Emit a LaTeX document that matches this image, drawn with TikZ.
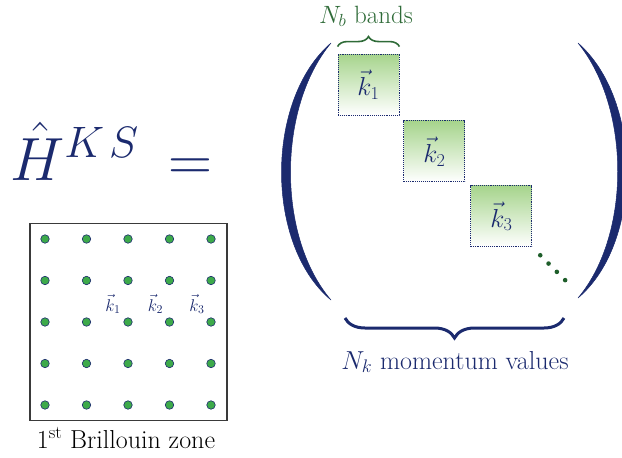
\RequirePackage{fix-cm}
\documentclass[tikz,border=0pt]{standalone}
\usepackage{amsmath}
\usetikzlibrary{positioning,calc,decorations.pathreplacing}
\definecolor{ksNavy}{HTML}{1B2A6E}
\definecolor{ksGreen}{HTML}{2F6B38}
\definecolor{ksDark}{HTML}{1E5E2A}
\definecolor{ksDot}{HTML}{3DAA4A}
\definecolor{ksTop}{HTML}{A6D48C}
\definecolor{ksGray}{HTML}{3A3A3A}

\begin{document}
\begin{tikzpicture}[x=1pt,y=-1pt,
  kbox/.style={draw=ksNavy,densely dotted,line width=0.9pt,top color=ksTop,bottom color=white,minimum size=61pt,inner sep=0pt,text=ksNavy,font=\fontsize{26}{30}\selectfont},
  kdot/.style={circle,draw=ksNavy,fill=ksDot,inner sep=0pt,minimum size=8.5pt,line width=0.6pt},
  klab/.style={text=ksNavy,font=\fontsize{17}{20}\selectfont},
  nbrace/.style={decorate,decoration={brace,amplitude=#1}},
  paren/.style={fill=ksNavy,draw=ksNavy,line width=0.5pt,line join=round}
]
\useasboundingbox (0,0) rectangle (622,458);

% Hamiltonian
\node[text=ksNavy,font=\fontsize{61}{70}\selectfont,anchor=base west,inner sep=0pt] (ham) at (10,180) {$\hat{H}^{\mbox{\fontsize{44}{48}\selectfont$K\mkern2mu S$}}$};
\node[text=ksNavy,font=\fontsize{61}{70}\selectfont,anchor=base west,inner sep=0pt] (eq) at (168,180) {$=$};

% big parentheses
\filldraw[paren] (331,43) .. controls (265,100) and (265,245) .. (331,300) .. controls (277,237) and (277,108) .. (331,43) -- cycle;
\filldraw[paren] (578,43) .. controls (643,100) and (643,243) .. (578,298) .. controls (631,235) and (631,108) .. (578,43) -- cycle;

% diagonal blocks
\node[kbox] (k1) at (368.5,84.5) {$\vec{k}_1$};
\node[kbox,below right=5pt and 4pt of k1] (k2) {$\vec{k}_2$};
\node[kbox,below right=3pt and 5pt of k2] (k3) {$\vec{k}_3$};
\foreach \i in {1,...,4}
  \fill[ksDark] ($(k3.south east)+(8.3*\i-0.3,8.3*\i-0.3)$) circle (2.3pt);

% braces
\draw[nbrace=10pt,ksGreen,line width=1.6pt] ([yshift=7pt]k1.north west) -- ([yshift=7pt]k1.north east);
\node[text=ksGreen,font=\fontsize{25}{28}\selectfont,anchor=base] (bands) at (366,23) {$N_b$ bands};
\coordinate (braceR) at (564,318);
\coordinate (braceL) at (345,318);
\draw[nbrace=20pt,ksNavy,line width=3pt] (braceR) -- (braceL);
\node[text=ksNavy,font=\fontsize{26}{29}\selectfont] (nk) at (455,362) {$N_k$ momentum values};

% Brillouin zone
\node[draw=ksGray,line width=1.2pt,minimum size=197pt,inner sep=0pt] (bz) at (128.5,322) {};
\foreach \i in {0,...,4}
  \foreach \j in {0,...,4}
    \node[kdot] (p-\i-\j) at (45+41.5*\i,239+41.5*\j) {};
\node[klab] (l1) at ($(p-2-2)+(-15,-18)$) {$\vec{k}_1$};
\node[klab] (l2) at ($(p-3-2)+(-14,-18)$) {$\vec{k}_2$};
\node[klab] (l3) at ($(p-4-2)+(-14,-18)$) {$\vec{k}_3$};
\node[font=\fontsize{26}{29}\selectfont,anchor=base] (cap) at (126,448) {1\textsuperscript{st} Brillouin zone};
\end{tikzpicture}
\end{document}
